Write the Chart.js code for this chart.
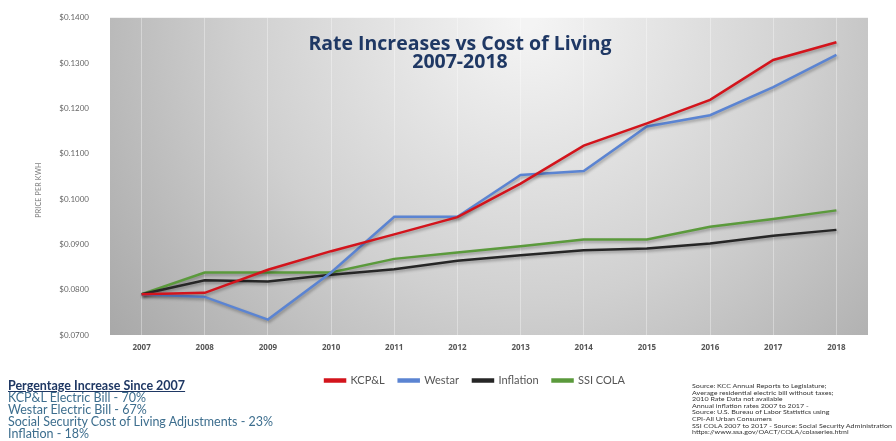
<!DOCTYPE html>
<html>
<head>
<meta charset="utf-8">
<script src="https://cdn.jsdelivr.net/npm/chart.js@4"></script>
<style>
  body { margin: 0; background: #fff; width: 896px; height: 441px; overflow: hidden; position: relative; font-family: Lato, "Open Sans", sans-serif; }
  #wrap { position: absolute; left: 0; top: 0; width: 896px; height: 400px; }
  .title { position: absolute; left: 260px; width: 400px; text-align: center; color: #1F3864; font-weight: bold; font-size: 19.5px; line-height: 20px; font-family: "Open Sans", sans-serif; }
  #ylab { position: absolute; left: 8px; top: 186px; transform: rotate(-90deg); transform-origin: center; font-size: 7px; color: #777; width: 60px; text-align: center; letter-spacing: 0.2px; }
  #notes { position: absolute; left: 8px; top: 380px; font-size: 12.5px; line-height: 12.1px; color: #3D6E8E; }
  #notes b { color: #1F3864; text-decoration: underline; }
  #src { position: absolute; left: 692px; top: 383px; font-size: 6px; line-height: 6.6px; color: #333; white-space: nowrap; transform: scaleX(1.19); transform-origin: left top; }
</style>
</head>
<body>
<div id="wrap"><canvas id="rateChart"></canvas></div>
<div class="title" style="top:33px">Rate Increases vs Cost of Living</div>
<div class="title" style="top:51px">2007-2018</div>
<div id="ylab">PRICE PER KWH</div>
<div id="notes">
  <b>Pergentage Increase Since 2007</b><br>
  KCP&amp;L Electric Bill - 70%<br>
  Westar Electric Bill - 67%<br>
  Social Security Cost of Living Adjustments - 23%<br>
  Inflation - 18%
</div>
<div id="src">
  Source: KCC Annual Reports to Legislature;<br>
  Average residential electric bill without taxes;<br>
  2010 Rate Data not available<br>
  Annual inflation rates 2007 to 2017 -<br>
  Source: U.S. Bureau of Labor Statistics using<br>
  CPI-All Urban Consumers<br>
  SSI COLA 2007 to 2017 - Source: Social Security Administration<br>
  https://www.ssa.gov/OACT/COLA/colaseries.html
</div>
<script>
const years = ['2007', '2008', '2009', '2010', '2011', '2012', '2013', '2014', '2015', '2016', '2017', '2018'];
const kcpl = [0.0790, 0.0793, 0.0844, 0.0885, 0.0922, 0.0960, 0.1034, 0.1118, 0.1167, 0.1219, 0.1307, 0.1346];
const westar = [0.0790, 0.0784, 0.0734, 0.0838, 0.0961, 0.0961, 0.1053, 0.1062, 0.1160, 0.1185, 0.1247, 0.1318];
const inflation = [0.0790, 0.0821, 0.0818, 0.0833, 0.0845, 0.0864, 0.0876, 0.0887, 0.0891, 0.0902, 0.0919, 0.0932];
const ssiCola = [0.0790, 0.0838, 0.0838, 0.0838, 0.0868, 0.0882, 0.0896, 0.0911, 0.0911, 0.0939, 0.0956, 0.0975];

// gray gradient fill behind the plot
const plotBg = {
    id: 'plotBg',
    beforeDraw(chart) {
        const a = chart.chartArea;
        const c = chart.ctx;
        const cx = a.left + (a.right - a.left) * 0.55;
        const g = c.createRadialGradient(cx, a.top, 10, cx, a.top, 560);
        g.addColorStop(0, '#f4f4f4');
        g.addColorStop(0.5, '#d0d0d0');
        g.addColorStop(1, '#a2a2a2');
        c.save();
        c.fillStyle = g;
        c.fillRect(a.left, a.top, a.right - a.left, a.bottom - a.top);
        c.restore();
    }
};

const lineShadow = {
    id: 'lineShadow',
    beforeDatasetsDraw(chart) {
        const c = chart.ctx;
        c.save();
        c.shadowColor = 'rgba(0,0,0,0.3)';
        c.shadowBlur = 3;
        c.shadowOffsetX = 1;
        c.shadowOffsetY = 2;
    },
    afterDatasetsDraw(chart) {
        chart.ctx.restore();
    }
};

// legend sits a bit right of centre in the original
const legendShift = {
    id: 'legendShift',
    afterLayout(chart) {
        chart.legend.left += 41;
        chart.legend.right += 41;
    }
};

function ds(label, data, color) {
    return {
        label: label, data: data, borderColor: color, backgroundColor: color,
        borderWidth: 2.5, pointRadius: 0, tension: 0, fill: false
    };
}

const ctx = document.getElementById('rateChart').getContext('2d');
var myChart = new Chart(ctx, {
    type: 'line',
    data: {
        labels: years,
        datasets: [
            ds('KCP&L', kcpl, '#D3141C'),
            ds('Westar', westar, '#5B84D2'),
            ds('Inflation', inflation, '#262626'),
            ds('SSI COLA', ssiCola, '#5B9A3C')
        ]
    },
    options: {
        responsive: true,
        maintainAspectRatio: false,
        animation: false,
        layout: { padding: { left: 0, right: 28, top: 12, bottom: 4 } },
        plugins: {
            legend: {
                position: 'bottom',
                labels: {
                    boxWidth: 20, boxHeight: 2, padding: 14, color: '#555',
                    font: { size: 11, family: 'Lato, "Open Sans", sans-serif' }
                }
            },
            tooltip: { enabled: false }
        },
        scales: {
            x: {
                offset: true,
                grid: { offset: false, color: 'rgba(255,255,255,0.35)', drawTicks: false },
                border: { display: false },
                ticks: { color: '#555', padding: 8, font: { size: 8, weight: 'bold', family: '"Open Sans", sans-serif' } },
                afterFit(scale) { scale.height = 26; }
            },
            y: {
                min: 0.07, max: 0.14,
                grid: { display: false },
                border: { display: false },
                ticks: {
                    stepSize: 0.01, color: '#666', padding: 13,
                    font: { size: 8, family: 'Lato, "Open Sans", sans-serif' },
                    callback: (v) => '$' + v.toFixed(4)
                },
                afterFit(scale) { scale.width = 110; }
            }
        }
    },
    plugins: [plotBg, lineShadow, legendShift]
});
</script>
</body>
</html>
